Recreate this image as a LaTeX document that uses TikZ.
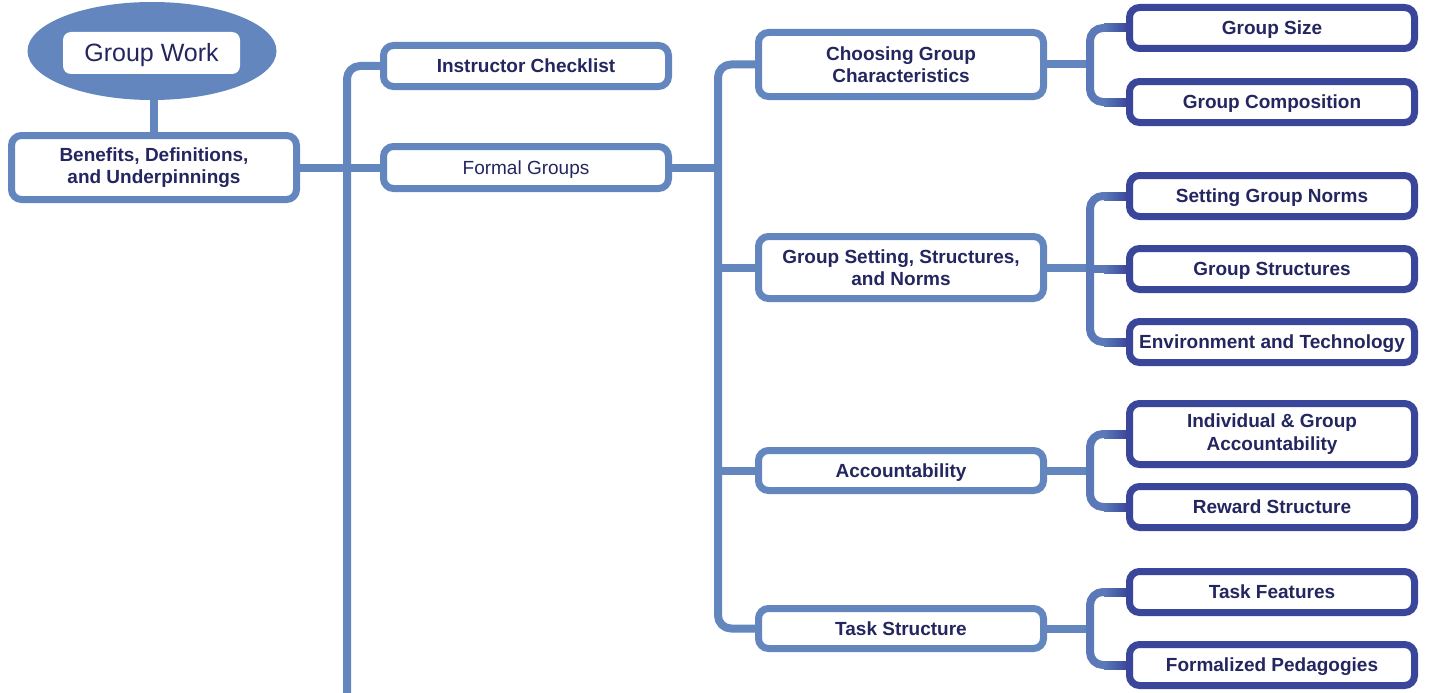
\documentclass[tikz,border=0pt]{standalone}
\usepackage{fontspec}
\setmainfont{Liberation Sans}
\usetikzlibrary{shapes.geometric}
\pgfdeclarelayer{background}
\pgfsetlayers{background,main}
\definecolor{lb}{HTML}{6386BF}
\definecolor{db}{HTML}{3A469A}
\definecolor{tx}{HTML}{24265F}
\colorlet{mb}{lb!80!db}
\begin{document}
\begin{tikzpicture}[x=1pt,y=-1pt,
  box/.style={draw=lb, line width=7pt, fill=white, rounded corners=10pt,
    minimum width=285pt, inner sep=0pt, align=center, text=tx,
    font=\fontsize{19}{22.5}\selectfont\bfseries},
  one/.style={text height=13.6pt, text depth=0pt},
  sbox/.style={box, draw=db},
  conn/.style={draw=lb, line width=8pt, rounded corners=13pt, line join=round},
  conn3/.style={conn, draw=mb},
]
\useasboundingbox (0,0) rectangle (1432,693);

% root
\node[ellipse, fill=lb, minimum width=249pt, minimum height=98pt, inner sep=0pt] (gwell) at (152,51) {};
\node[fill=white, rounded corners=8pt, minimum width=177pt, minimum height=42pt, inner sep=0pt,
  text height=18pt, text depth=0pt,
  text=tx, font=\fontsize{25}{30}\selectfont] (gw) at (151.5,53) {Group Work};

% level 1
\node[box, minimum height=64pt] (ben) at (154,167.5) {Benefits, Definitions,\\and Underpinnings};
\node[box, one, minimum height=41pt] (ic) at (526,66) {Instructor Checklist};
\node[box, one, minimum height=42pt, font=\fontsize{19}{22.5}\selectfont] (fg) at (526,167.5) {Formal Groups};

% level 2
\node[box, minimum height=64pt] (cgc) at (901,64.5) {Choosing Group\\Characteristics};
\node[box, minimum height=62pt] (gss) at (901,267.5) {Group Setting, Structures,\\and Norms};
\node[box, one, minimum height=40pt] (acc) at (901,470.5) {Accountability};
\node[box, one, minimum height=40pt] (ts) at (901,628.5) {Task Structure};

% level 3
\node[sbox, one, minimum height=41pt] (gsz) at (1272,28) {Group Size};
\node[sbox, one, minimum height=41pt] (gc) at (1272,102) {Group Composition};
\node[sbox, one, minimum height=41pt] (sgn) at (1272,196) {Setting Group Norms};
\node[sbox, one, minimum height=41pt] (gst) at (1272,269) {Group Structures};
\node[sbox, one, minimum height=41pt] (eat) at (1272,342) {Environment and Technology};
\node[sbox, minimum height=61pt] (iga) at (1272,434) {Individual \& Group\\Accountability};
\node[sbox, one, minimum height=41pt] (rs) at (1272,507) {Reward Structure};
\node[sbox, one, minimum height=41pt] (tf) at (1272,592) {Task Features};
\node[sbox, one, minimum height=41pt] (fp) at (1272,665) {Formalized Pedagogies};

\coordinate (t1) at (347,693);
\coordinate (t2) at (718,0);
\coordinate (t3) at (1090,0);

\begin{pgfonlayer}{background}
  % stem
  \draw[lb, line width=8pt] (ben.north) -- (ben.north |- gwell.south);
  % main trunk
  \draw[conn] (ic.west) -| (t1);
  \draw[conn] (ben.east) -- (fg.west);
  % second trunk
  \draw[conn] (fg.east) -- (fg.east -| t2);
  \draw[conn] (cgc.west) -| (t2 |- ts.west) -- (ts.west);
  \draw[conn] (gss.west) -- (gss.west -| t2);
  \draw[conn] (acc.west) -- (acc.west -| t2);
  % third level
  \draw[conn] (cgc.east) -- (cgc.east -| t3);
  \draw[conn] (gss.east) -- (gss.east -| t3);
  \draw[conn] (acc.east) -- (acc.east -| t3);
  \draw[conn] (ts.east) -- (ts.east -| t3);
  \draw[conn3] (gsz.west) -| (t3 |- gc.west) -- (gc.west);
  \draw[conn3] (sgn.west) -| (t3 |- eat.west) -- (eat.west);
  \draw[conn3] (gst.west) -- (gst.west -| t3);
  \draw[conn3] (iga.west) -| (t3 |- rs.west) -- (rs.west);
  \draw[conn3] (tf.west) -| (t3 |- fp.west) -- (fp.west);
  \foreach \n in {gsz,gc,sgn,gst,eat,iga,rs,tf,fp}{
    \shade[left color=mb, right color=db] ([xshift=-22pt,yshift=-4pt]\n.west) rectangle ([xshift=2pt,yshift=4pt]\n.west);
  }
\end{pgfonlayer}
\end{tikzpicture}
\end{document}
